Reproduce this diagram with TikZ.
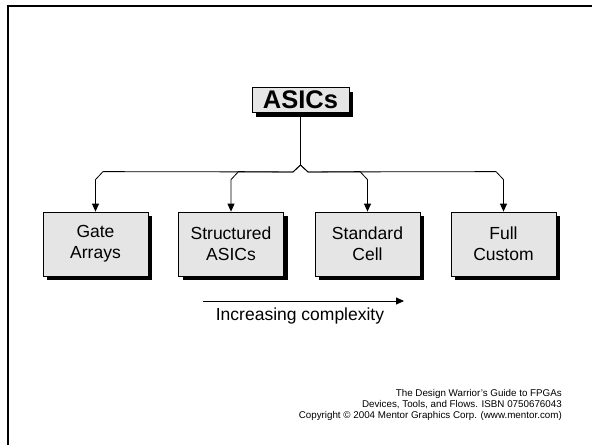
\documentclass[tikz,border=0pt]{standalone}
\usepackage{fontspec}
\setmainfont{Liberation Sans}
\usetikzlibrary{shadows,arrows.meta,calc}
\tikzset{
  block/.style={draw=black, line width=0.8pt, fill=black!10, minimum width=105pt, minimum height=64pt, align=center, font=\fontsize{17.5}{21}\selectfont, drop shadow={shadow xshift=4pt, shadow yshift=-4pt, opacity=1, fill=black}},
  topblock/.style={block, minimum width=97pt, minimum height=25pt, font=\fontsize{25.5}{30}\bfseries\selectfont},
  arr/.style={-{Triangle[length=8pt,width=7pt]}, line width=0.8pt}
}
\begin{document}
\begin{tikzpicture}[x=1pt,y=-1pt]
	\useasboundingbox (0,0) rectangle (592,445);
	\draw[line width=2pt] (7.5,445) -- (7.5,6) -- (592,6);
	\node[topblock] (asics) at (300.5,100) {ASICs};
	\node[block] (gate) at (95.5,244) {Gate\\Arrays};
	\node[block] (struct) at (231,244) {Structured\\ASICs};
	\node[block] (std) at (367.5,244) {Standard\\Cell};
	\node[block] (full) at (503.5,244) {Full\\Custom};
	\coordinate (peak) at (300.5,165);
	\draw[line width=0.8pt] (asics.south) -- (peak);
	\foreach \b/\d/\e in {gate/-7.5/7.5,struct/-7.5/7.5,std/7.5/-7.5,full/7.5/-7.5}
		\draw[arr] (peak) -- ++(\d,7) -- ($(\b.north)+(\e,-40)$) -- ($(\b.north)+(0,-32)$) -- (\b.north);
	\coordinate (cs) at (203,301);
	\coordinate (ce) at (404,301);
	\draw[arr] (cs) -- (ce);
	\node[font=\fontsize{17.5}{21}\selectfont] (cx) at (300,316) {Increasing complexity};
	\node[anchor=north east, align=right, inner sep=0pt, font=\fontsize{9.8}{11}\selectfont] (ref) at (562,389.5) {The Design Warrior's Guide to FPGAs\\Devices, Tools, and Flows. ISBN 0750676043\\Copyright \textcopyright{} 2004 Mentor Graphics Corp. (www.mentor.com)};
\end{tikzpicture}
\end{document}
